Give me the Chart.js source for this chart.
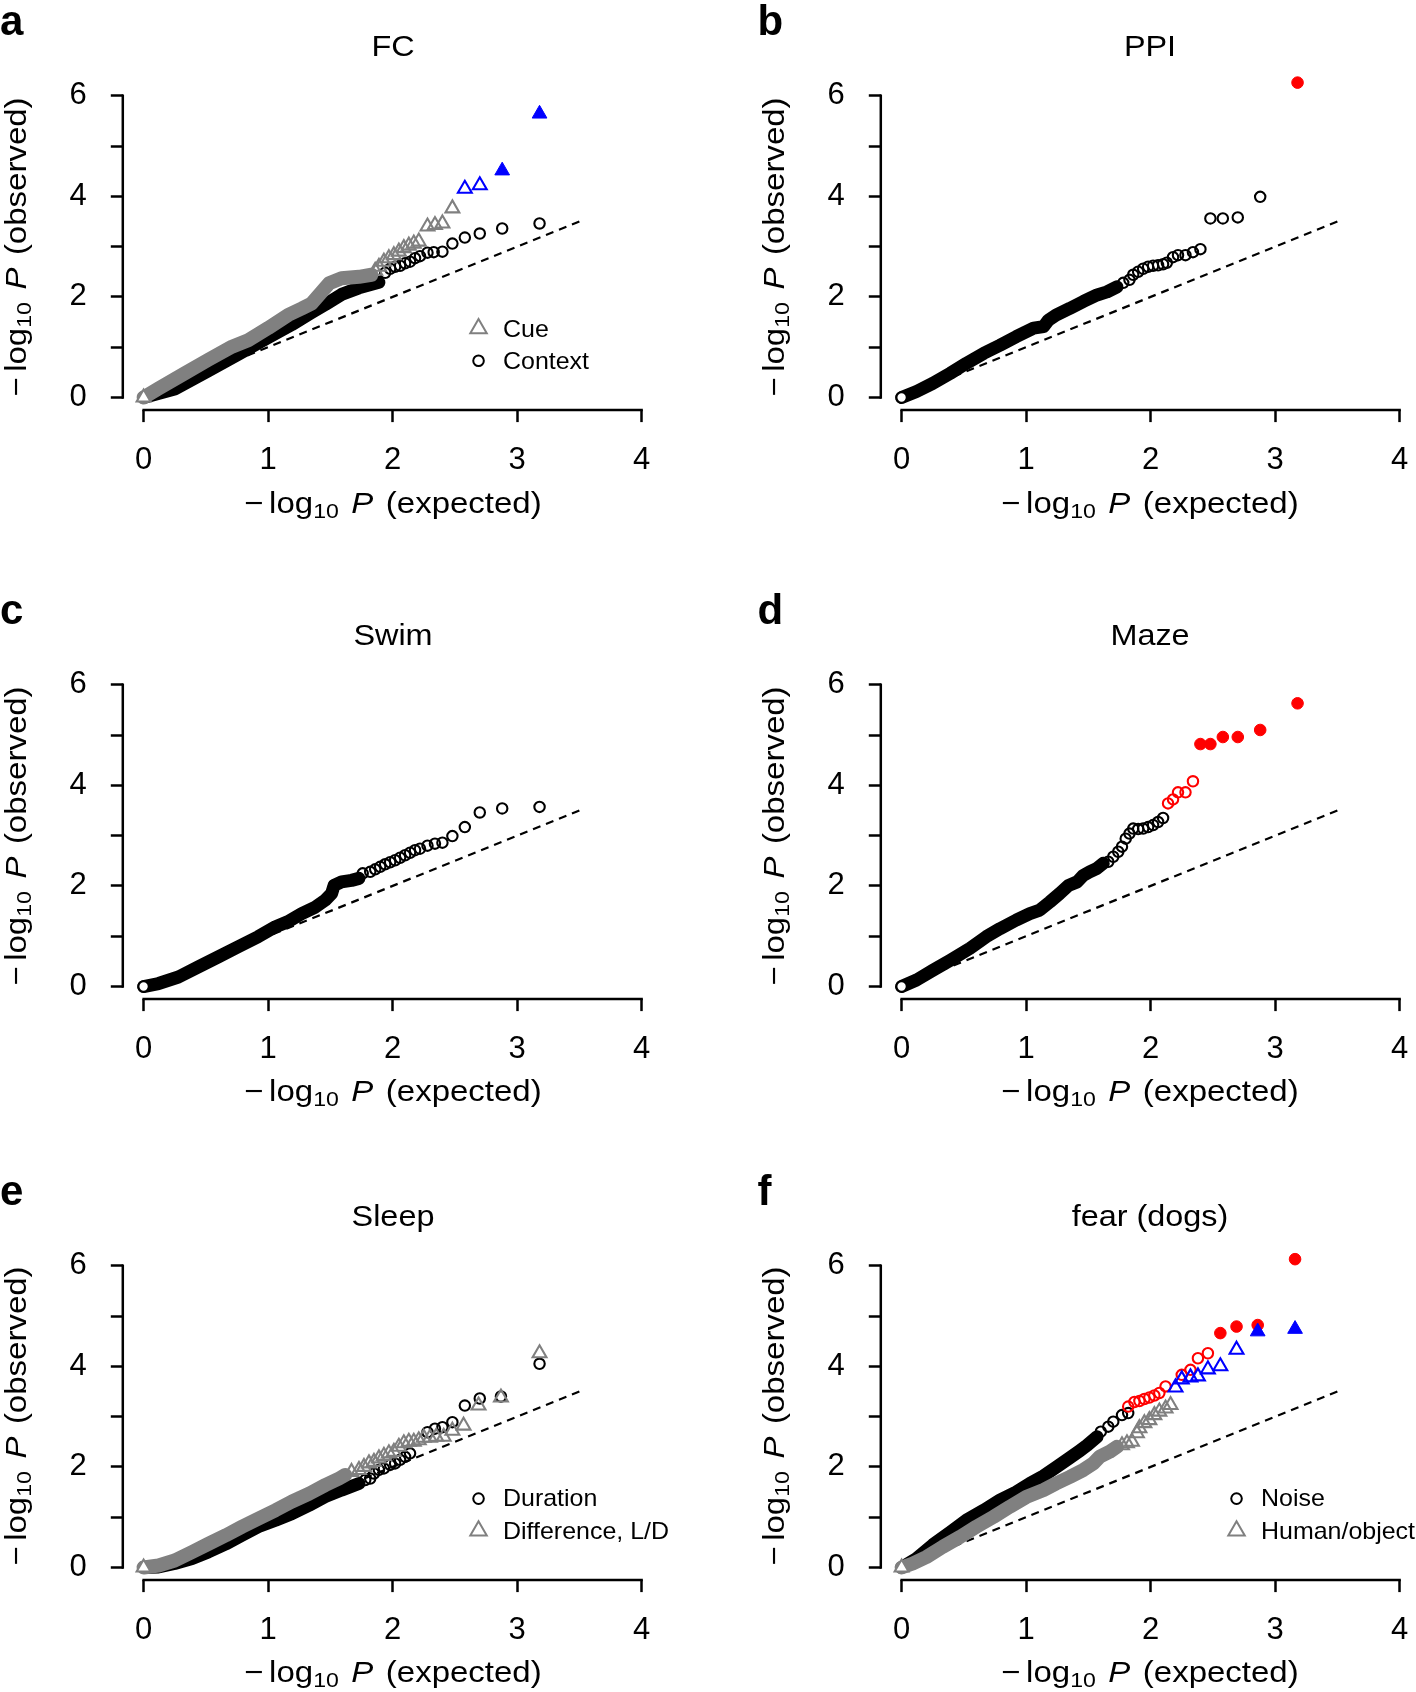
<!DOCTYPE html>
<html lang="en">
<head>
  <meta charset="UTF-8">
  <title>QQ plots</title>
  <script src="https://cdn.jsdelivr.net/npm/chart.js"></script>
  <style>
    body { margin: 0; background: #fff; }
    #fig { position: relative; width: 1416px; height: 1692px; overflow: hidden; background: #fff; }
    #fig canvas { position: absolute; }
    .txt {
      position: absolute;
      white-space: nowrap;
      font-family: "Liberation Sans", Arial, Helvetica, sans-serif;
      color: #000;
      line-height: 1;
    }
    .title  { font-size: 30px; transform: translate(-50%, -50%) scaleX(1.08); }
    .letter { font-size: 42px; font-weight: bold; transform-origin: left top; }
    .xlab   { font-size: 30px; word-spacing: 3px; transform: translate(-50%, 0) scaleX(1.1); }
    .ylab   { font-size: 30px; word-spacing: 3px; transform: translate(-50%, -50%) rotate(-90deg) scaleX(1.1); }
    .leg    { font-size: 24px; transform: translate(0, -50%) scaleX(1.04); transform-origin: left center; }
    .txt sub { font-size: 0.7em; vertical-align: -0.24em; line-height: 0; }
    .mn { margin-right: 5px; }
  </style>
</head>
<body>
<div id="fig"></div>

<script>
  // axis ticks shared by all panels
  const xTicks = [0, 1, 2, 3, 4];
  const yTicks = [0, 1, 2, 3, 4, 5, 6];
  const yTickLabels = ['0', '', '2', '', '4', '', '6'];
  const refLine = [[0, 0], [3.5, 3.5]];

  // a - FC  (dense part of each series is a "band", sparse tail is single points)
  const fcContextBand = [[0,0],[0.25,0.17],[0.52,0.53],[0.76,0.86],[1.00,1.19],[1.19,1.45],[1.35,1.69],[1.46,1.85],[1.59,2.05],[1.73,2.18],[1.89,2.29]];
  const fcContextPts = [[1.94,2.48],[1.98,2.56],[2.02,2.60],[2.06,2.62],[2.10,2.67],[2.14,2.70],[2.18,2.77],[2.22,2.81],[2.28,2.88],[2.33,2.89],[2.40,2.90],[2.48,3.06],[2.58,3.18],[2.70,3.26],[2.88,3.36],[3.18,3.46]];
  const fcCueBand = [[0,0],[0.12,0.18],[0.33,0.48],[0.52,0.75],[0.71,1.01],[0.84,1.14],[1.00,1.38],[1.16,1.64],[1.27,1.77],[1.35,1.87],[1.42,2.07],[1.49,2.27],[1.59,2.37],[1.73,2.40],[1.83,2.44]];
  const fcCuePts = [[1.86,2.52],[1.89,2.60],[1.93,2.70],[1.97,2.77],[2.01,2.83],[2.05,2.90],[2.09,2.97],[2.13,3.02],[2.17,3.06],[2.21,3.10],[2.28,3.40],[2.34,3.43],[2.40,3.46],[2.48,3.76]];
  const fcCueSig = [[2.58,4.15],[2.70,4.22]];
  const fcCueTop = [[2.88,4.51],[3.18,5.64]];

  // b - PPI
  const ppiBand = [[0,0],[0.12,0.12],[0.25,0.28],[0.39,0.48],[0.52,0.68],[0.66,0.88],[0.79,1.04],[0.92,1.21],[1.06,1.38],[1.14,1.41],[1.18,1.54],[1.24,1.64],[1.35,1.77],[1.46,1.91],[1.57,2.04],[1.65,2.10],[1.73,2.20]];
  const ppiPts = [[1.78,2.28],[1.83,2.34],[1.86,2.44],[1.90,2.50],[1.94,2.56],[1.98,2.60],[2.02,2.62],[2.06,2.63],[2.10,2.65],[2.13,2.68],[2.18,2.79],[2.22,2.83],[2.28,2.83],[2.34,2.89],[2.40,2.95],[2.48,3.56],[2.58,3.56],[2.70,3.58],[2.88,3.99]];
  const ppiTop = [[3.18,6.26]];

  // c - Swim
  const swimBand = [[0,0],[0.12,0.06],[0.28,0.19],[0.44,0.39],[0.60,0.59],[0.76,0.79],[0.92,0.99],[1.06,1.19],[1.16,1.29],[1.27,1.45],[1.38,1.58],[1.46,1.72],[1.51,1.85],[1.53,2.01],[1.59,2.08],[1.67,2.11],[1.73,2.15]];
  const swimPts = [[1.53,2.01],[1.76,2.25],[1.82,2.28],[1.86,2.33],[1.90,2.38],[1.94,2.43],[1.98,2.47],[2.02,2.51],[2.06,2.56],[2.10,2.61],[2.14,2.66],[2.18,2.71],[2.22,2.74],[2.28,2.80],[2.34,2.84],[2.40,2.86],[2.48,2.99],[2.58,3.17],[2.70,3.46],[2.88,3.54],[3.18,3.57]];

  // d - Maze
  const mazeBand = [[0,0],[0.12,0.13],[0.25,0.32],[0.39,0.52],[0.55,0.76],[0.68,0.99],[0.79,1.15],[0.92,1.32],[1.03,1.45],[1.11,1.52],[1.19,1.68],[1.27,1.85],[1.34,2.01],[1.41,2.08],[1.46,2.21],[1.51,2.28],[1.57,2.35],[1.62,2.45]];
  const mazePts = [[1.66,2.48],[1.70,2.58],[1.74,2.68],[1.77,2.78],[1.80,2.94],[1.83,3.04],[1.86,3.14],[1.90,3.13],[1.94,3.14],[1.98,3.17],[2.02,3.21],[2.06,3.27],[2.10,3.35]];
  const mazeSig = [[2.14,3.64],[2.18,3.72],[2.22,3.86],[2.28,3.86],[2.34,4.08]];
  const mazeTop = [[2.40,4.82],[2.48,4.82],[2.58,4.96],[2.70,4.96],[2.88,5.10],[3.18,5.63]];

  // e - Sleep
  const sleepDurBand = [[0,0],[0.12,0.01],[0.25,0.08],[0.39,0.18],[0.52,0.31],[0.66,0.47],[0.79,0.64],[0.92,0.81],[1.06,0.94],[1.19,1.07],[1.33,1.24],[1.46,1.41],[1.59,1.54],[1.73,1.67]];
  const sleepDurPts = [[1.78,1.74],[1.82,1.77],[1.85,1.87],[1.89,1.94],[1.93,1.97],[1.98,2.04],[2.02,2.07],[2.06,2.14],[2.10,2.20],[2.14,2.27],[2.28,2.69],[2.34,2.76],[2.40,2.79],[2.48,2.89],[2.58,3.22],[2.70,3.36],[2.87,3.40],[3.18,4.05]];
  const sleepDiffBand = [[0,0],[0.12,0.04],[0.25,0.14],[0.39,0.31],[0.52,0.47],[0.66,0.64],[0.79,0.81],[0.92,0.97],[1.06,1.14],[1.19,1.31],[1.33,1.47],[1.46,1.64],[1.57,1.77],[1.62,1.84]];
  const sleepDiffPts = [[1.67,1.90],[1.73,1.94],[1.77,2.00],[1.81,2.07],[1.85,2.10],[1.89,2.17],[1.93,2.22],[1.97,2.27],[2.01,2.30],[2.05,2.40],[2.09,2.47],[2.13,2.50],[2.17,2.50],[2.21,2.53],[2.25,2.58],[2.30,2.58],[2.35,2.60],[2.41,2.60],[2.48,2.72],[2.57,2.82],[2.69,3.22],[2.87,3.38],[3.18,4.26]];

  // f - fear (dogs)
  const noiseBand = [[0,0],[0.12,0.18],[0.25,0.45],[0.39,0.70],[0.52,0.94],[0.66,1.14],[0.79,1.34],[0.92,1.50],[1.03,1.67],[1.14,1.82],[1.24,1.99],[1.35,2.18],[1.43,2.32],[1.49,2.43],[1.57,2.60]];
  const noisePts = [[1.60,2.70],[1.66,2.80],[1.70,2.90],[1.77,3.03],[1.82,3.07]];
  const noiseSig = [[1.82,3.20],[1.87,3.29],[1.91,3.31],[1.95,3.35],[1.99,3.38],[2.03,3.42],[2.07,3.47],[2.12,3.60],[2.25,3.83],[2.32,3.93],[2.38,4.16],[2.46,4.26]];
  const noiseTop = [[2.56,4.66],[2.69,4.79],[2.86,4.82],[3.16,6.13]];
  const humanBand = [[0,0],[0.09,0.08],[0.20,0.21],[0.33,0.41],[0.47,0.61],[0.60,0.81],[0.74,1.01],[0.87,1.21],[1.00,1.40],[1.14,1.54],[1.24,1.67],[1.35,1.80],[1.46,1.94],[1.54,2.07],[1.59,2.20],[1.67,2.30],[1.73,2.40]];
  const humanPts = [[1.77,2.43],[1.81,2.47],[1.85,2.50],[1.89,2.67],[1.91,2.77],[1.95,2.87],[1.99,2.93],[2.03,3.03],[2.07,3.10],[2.12,3.16],[2.16,3.23]];
  const humanSig = [[2.20,3.58],[2.25,3.74],[2.32,3.78],[2.38,3.80],[2.46,3.94],[2.56,4.00],[2.69,4.33]];
  const humanTop = [[2.86,4.69],[3.16,4.74]];

  // marker looks (R pch 1, 2, 16, 17)
  const looks = {
    circle:  { style: 'circle',   r: 5.2, bw: 2.1, color: '#000000', solid: false },
    tri:     { style: 'triangle', r: 8,   bw: 2.1, color: '#808080', solid: false },
    circleR: { style: 'circle',   r: 5.2, bw: 2.1, color: '#ff0000', solid: false },
    dotR:    { style: 'circle',   r: 5.8, bw: 1,   color: '#ff0000', solid: true },
    triB:    { style: 'triangle', r: 8,   bw: 2.1, color: '#0000ff', solid: false },
    triBF:   { style: 'triangle', r: 8.5, bw: 1,   color: '#0000ff', solid: true }
  };

  // layers listed top-most first
  const panels = [
    { letter: 'a', title: 'FC', col: 0, row: 0,
      layers: [['pts', fcCueTop, 'triBF'], ['pts', fcCueSig, 'triB'], ['pts', fcCuePts, 'tri'], ['band', fcCueBand, 'tri'],
               ['pts', fcContextPts, 'circle'], ['band', fcContextBand, 'circle']],
      legend: [['Cue', 'tri'], ['Context', 'circle']] },
    { letter: 'b', title: 'PPI', col: 1, row: 0,
      layers: [['pts', ppiTop, 'dotR'], ['pts', ppiPts, 'circle'], ['band', ppiBand, 'circle']] },
    { letter: 'c', title: 'Swim', col: 0, row: 1,
      layers: [['pts', swimPts, 'circle'], ['band', swimBand, 'circle']] },
    { letter: 'd', title: 'Maze', col: 1, row: 1,
      layers: [['pts', mazeTop, 'dotR'], ['pts', mazeSig, 'circleR'], ['pts', mazePts, 'circle'], ['band', mazeBand, 'circle']] },
    { letter: 'e', title: 'Sleep', col: 0, row: 2,
      layers: [['pts', sleepDiffPts, 'tri'], ['band', sleepDiffBand, 'tri'], ['pts', sleepDurPts, 'circle'], ['band', sleepDurBand, 'circle']],
      legend: [['Duration', 'circle'], ['Difference, L/D', 'tri']] },
    { letter: 'f', title: 'fear (dogs)', col: 1, row: 2,
      layers: [['pts', humanTop, 'triBF'], ['pts', humanSig, 'triB'], ['pts', noiseTop, 'dotR'], ['pts', noiseSig, 'circleR'],
               ['pts', humanPts, 'tri'], ['band', humanBand, 'tri'], ['pts', noisePts, 'circle'], ['band', noiseBand, 'circle']],
      legend: [['Noise', 'circle'], ['Human/object', 'tri']] }
  ];

  // page layout
  const colLeft = [0, 757.6];
  const rowTop = [0, 588.9, 1169.7];
  const W = 720, H = 590;
  const FONT = '"Liberation Sans", Arial, Helvetica, sans-serif';
  const legendX = 2.69, legendTextX = 2.89, legendRows = [1.37, 0.73];

  const xy = arr => arr.map(p => ({ x: p[0], y: p[1] }));

  function pointSet(arr, key) {
    const l = looks[key];
    return {
      data: xy(arr), showLine: false,
      pointStyle: l.style, pointRadius: l.r, pointBorderWidth: l.bw,
      pointBorderColor: l.color, pointBackgroundColor: l.solid ? l.color : 'rgba(0,0,0,0)'
    };
  }

  function bandSet(arr, key) {
    const l = looks[key];
    return {
      data: xy(arr), showLine: true, tension: 0,
      borderColor: l.color, borderWidth: l.style === 'triangle' ? 14 : 13,
      borderCapStyle: 'round', borderJoinStyle: 'round',
      pointStyle: l.style, pointBorderWidth: l.bw, pointBorderColor: l.color,
      pointBackgroundColor: '#fff',
      pointRadius: c => c.dataIndex === 0 ? l.r : 0
    };
  }

  function drawMarker(ctx, key, x, y, r) {
    const l = looks[key];
    ctx.beginPath();
    if (l.style === 'circle') {
      ctx.arc(x, y, r, 0, Math.PI * 2);
    } else {
      for (let k = 0; k < 3; k++) {
        const a = k * 2 * Math.PI / 3;
        const px = x + Math.sin(a) * r, py = y - Math.cos(a) * r;
        if (k === 0) ctx.moveTo(px, py); else ctx.lineTo(px, py);
      }
      ctx.closePath();
    }
    ctx.lineWidth = 2;
    ctx.strokeStyle = l.color;
    ctx.stroke();
  }

  // R style detached axes + legend symbols
  const rAxes = {
    id: 'rAxes',
    afterDraw(chart, args, opts) {
      const { ctx, chartArea, scales: { x, y } } = chart;
      ctx.save();
      ctx.strokeStyle = '#000';
      ctx.lineWidth = 2.5;
      ctx.beginPath();
      ctx.moveTo(x.getPixelForValue(xTicks[0]) - 1.2, chartArea.bottom);
      ctx.lineTo(x.getPixelForValue(xTicks[xTicks.length - 1]) + 1.2, chartArea.bottom);
      ctx.moveTo(chartArea.left, y.getPixelForValue(yTicks[0]) + 1.2);
      ctx.lineTo(chartArea.left, y.getPixelForValue(yTicks[yTicks.length - 1]) - 1.2);
      ctx.stroke();
      (opts.legend || []).forEach((item, i) => {
        const r = looks[item[1]].style === 'triangle' ? 9.5 : 5.3;
        drawMarker(ctx, item[1], x.getPixelForValue(legendX), y.getPixelForValue(legendRows[i]), r);
      });
      ctx.restore();
    }
  };

  const fig = document.getElementById('fig');

  function addText(cls, html, left, top) {
    const d = document.createElement('div');
    d.className = 'txt ' + cls;
    d.innerHTML = html;
    d.style.left = left + 'px';
    d.style.top = top + 'px';
    fig.appendChild(d);
  }

  panels.forEach(p => {
    const ox = colLeft[p.col], oy = rowTop[p.row];
    const canvas = document.createElement('canvas');
    canvas.width = W; canvas.height = H;
    canvas.style.left = ox + 'px';
    canvas.style.top = oy + 'px';
    fig.appendChild(canvas);

    const datasets = p.layers.map(l => l[0] === 'band' ? bandSet(l[1], l[2]) : pointSet(l[1], l[2]));
    datasets.push({
      data: xy(refLine), showLine: true, borderColor: '#000', borderWidth: 2.2,
      borderDash: [8, 6], pointRadius: 0
    });

    const tickFont = { family: FONT, size: 31 };
    const chart = new Chart(canvas, {
      type: 'scatter',
      data: { datasets },
      options: {
        responsive: false,
        animation: false,
        events: [],
        layout: { padding: { top: 70.55, right: 41, left: 0, bottom: 0 } },
        plugins: { legend: { display: false }, tooltip: { enabled: false }, rAxes: { legend: p.legend } },
        scales: {
          x: {
            type: 'linear', min: -0.167, max: 4.3,
            afterBuildTicks: s => { s.ticks = xTicks.map(v => ({ value: v })); },
            afterFit: s => { s.height = H - 410.1; },
            grid: { drawOnChartArea: false, drawTicks: true, tickLength: 12, tickWidth: 2.5, tickColor: '#000' },
            border: { display: false },
            ticks: { color: '#000', font: tickFont, padding: 20, autoSkip: false, maxRotation: 0,
                     callback: v => String(v) }
          },
          y: {
            type: 'linear', min: -0.25, max: 6.5,
            afterBuildTicks: s => { s.ticks = yTicks.map(v => ({ value: v })); },
            afterFit: s => { s.width = 122.8; },
            grid: { drawOnChartArea: false, drawTicks: true, tickLength: 12, tickWidth: 2.5, tickColor: '#000' },
            border: { display: false },
            ticks: { color: '#000', font: tickFont, padding: 24, autoSkip: false,
                     callback: (v, i) => yTickLabels[i] }
          }
        }
      },
      plugins: [rAxes]
    });

    const sx = chart.scales.x, sy = chart.scales.y;
    const mid = sx.getPixelForValue(2);
    addText('letter', p.letter, ox, oy + 0.4);
    addText('title', p.title, ox + mid, oy + 46.2);
    addText('xlab', '<span class="mn">\u2212</span>log<sub>10</sub> <i>P</i> (expected)', ox + mid, oy + 487.5);
    addText('ylab', '<span class="mn">\u2212</span>log<sub>10</sub> <i>P</i> (observed)', ox + 16.4, oy + sy.getPixelForValue(3));
    (p.legend || []).forEach((item, i) => {
      addText('leg', item[0], ox + sx.getPixelForValue(legendTextX), oy + sy.getPixelForValue(legendRows[i]));
    });
  });
</script>
</body>
</html>
